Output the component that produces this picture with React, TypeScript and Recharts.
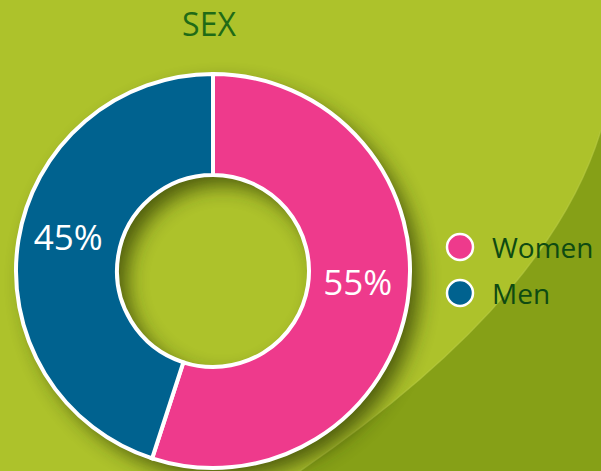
import { PieChart, Pie, Cell } from 'recharts';

const W = 601;
const H = 471;

const categories = ['Women', 'Men'];
const shares = [55, 45];
const COLORS = ['#ee3a8c', '#00628f'];

const chartData = categories.map((name, i) => ({ name, value: shares[i] }));

const CX = 213;
const CY = 271;
const OUTER = 197;
const INNER = 96;

const RADIAN = Math.PI / 180;

// percent labels sit a bit above the ring's mid-radius in the original
function renderLabel(props: any) {
  const { cx, cy, midAngle, innerRadius, outerRadius, value } = props;
  const r = (innerRadius + outerRadius) / 2;
  const x = cx + r * Math.cos(-midAngle * RADIAN);
  const y = cy + r * Math.sin(-midAngle * RADIAN) - 12;
  return (
    <text
      x={x}
      y={y}
      fill="#ffffff"
      fontSize={35}
      fontFamily="Open Sans"
      textAnchor="middle"
      dominantBaseline="central"
    >
      {`${value}%`}
    </text>
  );
}

function LegendBox() {
  return (
    <div style={{ position: 'absolute', left: 444, top: 224, fontFamily: 'Open Sans' }}>
      {categories.map((name, i) => (
        <div key={name} style={{ display: 'flex', alignItems: 'center', height: 46 }}>
          <svg width={32} height={32} style={{ marginRight: 16 }}>
            <circle cx={16} cy={16} r={13} fill={COLORS[i]} stroke="#fff" strokeWidth={2.5} />
          </svg>
          <span style={{ fontSize: 28, color: '#0e4a12' }}>{name}</span>
        </div>
      ))}
    </div>
  );
}

export default function App() {
  return (
    <div
      style={{
        position: 'absolute',
        left: 0,
        top: 0,
        width: W,
        height: H,
        overflow: 'hidden',
        background: '#adc22b',
      }}
    >
      <svg width={W} height={H} style={{ position: 'absolute', left: 0, top: 0 }}>
        <defs>
          <filter id="blur" x="-20%" y="-20%" width="140%" height="140%">
            <feGaussianBlur stdDeviation="10" />
          </filter>
        </defs>
        <path d="M601,130 Q550,300 300,471 L601,471 Z" fill="#86a017" />
        <path d="M601,130 Q550,300 300,471" fill="none" stroke="#b9cc45" strokeWidth={1.5} opacity={0.6} />
        {/* drop shadow of the ring */}
        <path
          fillRule="evenodd"
          fill="#263000"
          opacity={0.7}
          filter="url(#blur)"
          d={`M${CX + 10 - OUTER},${CY + 10} a${OUTER},${OUTER} 0 1,0 ${OUTER * 2},0 a${OUTER},${OUTER} 0 1,0 ${-OUTER * 2},0 Z M${CX + 10 - INNER},${CY + 10} a${INNER},${INNER} 0 1,0 ${INNER * 2},0 a${INNER},${INNER} 0 1,0 ${-INNER * 2},0 Z`}
        />
      </svg>
      <div
        style={{
          position: 'absolute',
          left: 0,
          top: 2,
          width: 418,
          textAlign: 'center',
          fontFamily: 'Open Sans',
          fontSize: 32,
          color: '#1f6b16',
        }}
      >
        SEX
      </div>
      <div style={{ position: 'absolute', left: 0, top: 0 }}>
        <PieChart width={W} height={H} margin={{ top: 0, right: 0, bottom: 0, left: 0 }}>
          <Pie
            data={chartData}
            dataKey="value"
            nameKey="name"
            cx={CX}
            cy={CY}
            innerRadius={INNER}
            outerRadius={OUTER}
            startAngle={90}
            endAngle={-270}
            stroke="#ffffff"
            strokeWidth={4}
            label={renderLabel}
            labelLine={false}
            isAnimationActive={false}
          >
            {chartData.map((d, i) => (
              <Cell key={d.name} fill={COLORS[i]} />
            ))}
          </Pie>
        </PieChart>
      </div>
      <LegendBox />
    </div>
  );
}
